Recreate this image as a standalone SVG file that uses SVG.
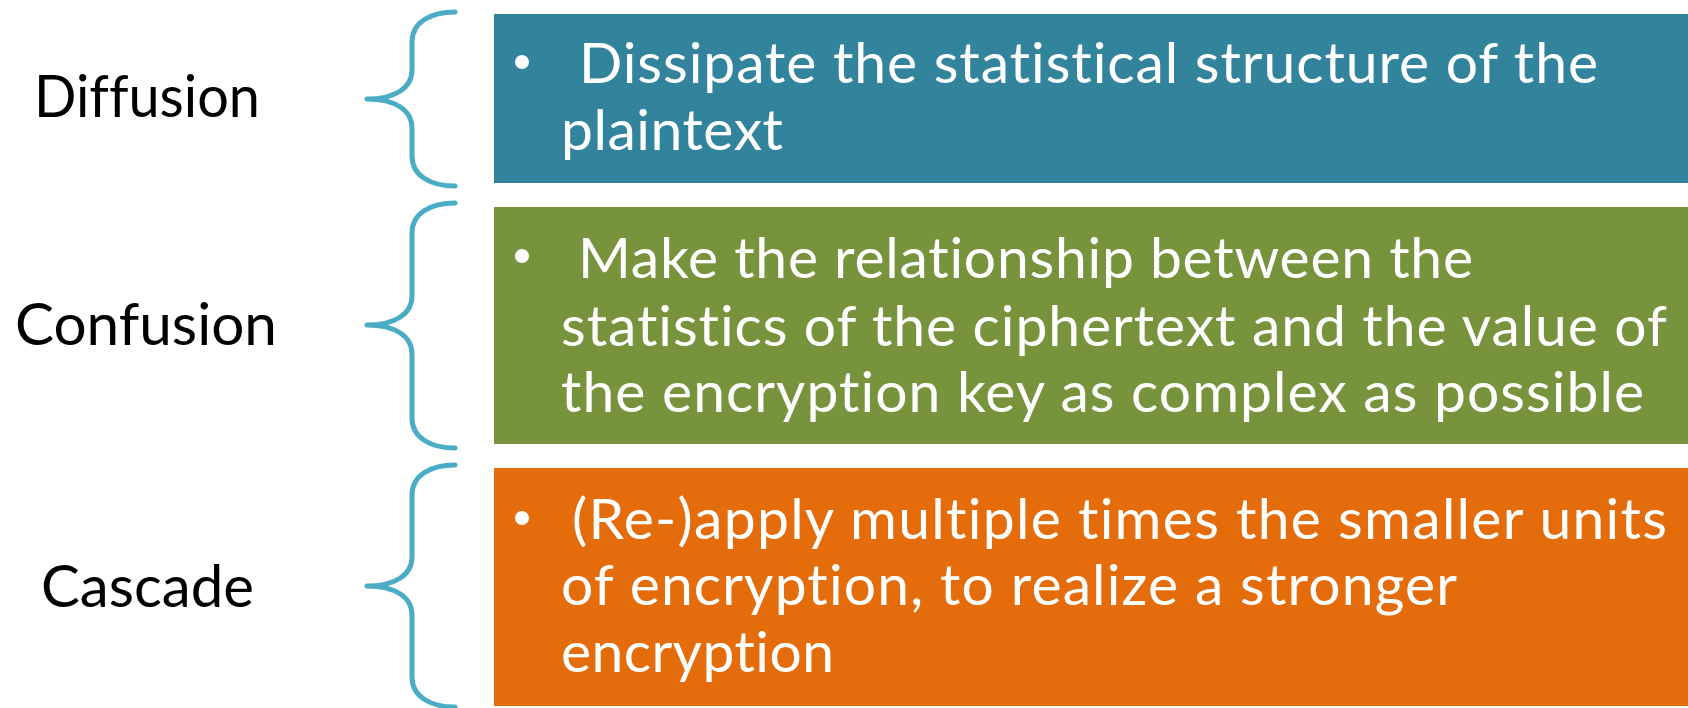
<svg xmlns="http://www.w3.org/2000/svg" width="1688" height="708" viewBox="0 0 1688 708">
  <style>
    text { font-variant-ligatures: none; font-feature-settings: "liga" 0, "clig" 0, "dlig" 0; }
    .label { font-family: Lato, "Open Sans", "Liberation Sans", sans-serif; font-size: 59px; fill: #000000; }
    .body { font-family: Lato, "Open Sans", "Liberation Sans", sans-serif; font-size: 57px; fill: #ffffff; }
    .brace { fill: none; stroke: #4bacc6; stroke-width: 5; stroke-linecap: round; stroke-linejoin: round; }
    .bullet { fill: #ffffff; }
  </style>
  <rect x="0" y="0" width="1688" height="708" fill="#ffffff"/>

  <!-- curly braces joining each term to its box -->
  <g id="connectors">
    <path class="brace" d="M455,12 C431,12 412,22 412,42 L412,70 C412,88 395,99 367,99 C395,99 412,110 412,128 L412,156 C412,176 431,186 455,186"/>
    <path class="brace" d="M455,203 C431,203 412,213 412,233 L412,296 C412,314 395,325 367,325 C395,325 412,336 412,354 L412,418 C412,438 431,448 455,448"/>
    <path class="brace" d="M455,465 C431,465 412,475 412,495 L412,557 C412,575 395,586 367,586 C395,586 412,597 412,615 L412,677 C412,697 431,707 455,707"/>
  </g>

  <!-- Diffusion -->
  <g id="diffusion">
    <text class="label" x="34" y="117" textLength="226" lengthAdjust="spacingAndGlyphs">Diffusion</text>
    <rect x="494" y="14" width="1194" height="169" fill="#31849b"/>
    <circle class="bullet" cx="522" cy="62" r="7"/>
    <text class="body" x="579" y="83" textLength="1019">Dissipate the statistical structure of the</text>
    <text class="body" x="561" y="150" textLength="222">plaintext</text>
  </g>

  <!-- Confusion -->
  <g id="confusion">
    <text class="label" x="15" y="345" textLength="262" lengthAdjust="spacingAndGlyphs">Confusion</text>
    <rect x="494" y="207" width="1194" height="237" fill="#77933c"/>
    <circle class="bullet" cx="522" cy="256" r="7"/>
    <text class="body" x="578" y="278" textLength="895">Make the relationship between the</text>
    <text class="body" x="561" y="346" textLength="1106">statistics of the ciphertext and the value of</text>
    <text class="body" x="561" y="412" textLength="1083">the encryption key as complex as possible</text>
  </g>

  <!-- Cascade -->
  <g id="cascade">
    <text class="label" x="41" y="607" textLength="213" lengthAdjust="spacingAndGlyphs">Cascade</text>
    <rect x="494" y="468" width="1194" height="238" fill="#e46c0a"/>
    <circle class="bullet" cx="522" cy="518" r="7"/>
    <text class="body" x="572" y="539" textLength="1095">(Re-)apply multiple times the smaller units</text>
    <text class="body" x="561" y="605" textLength="896">of encryption, to realize a stronger</text>
    <text class="body" x="561" y="672" textLength="273">encryption</text>
  </g>
</svg>
